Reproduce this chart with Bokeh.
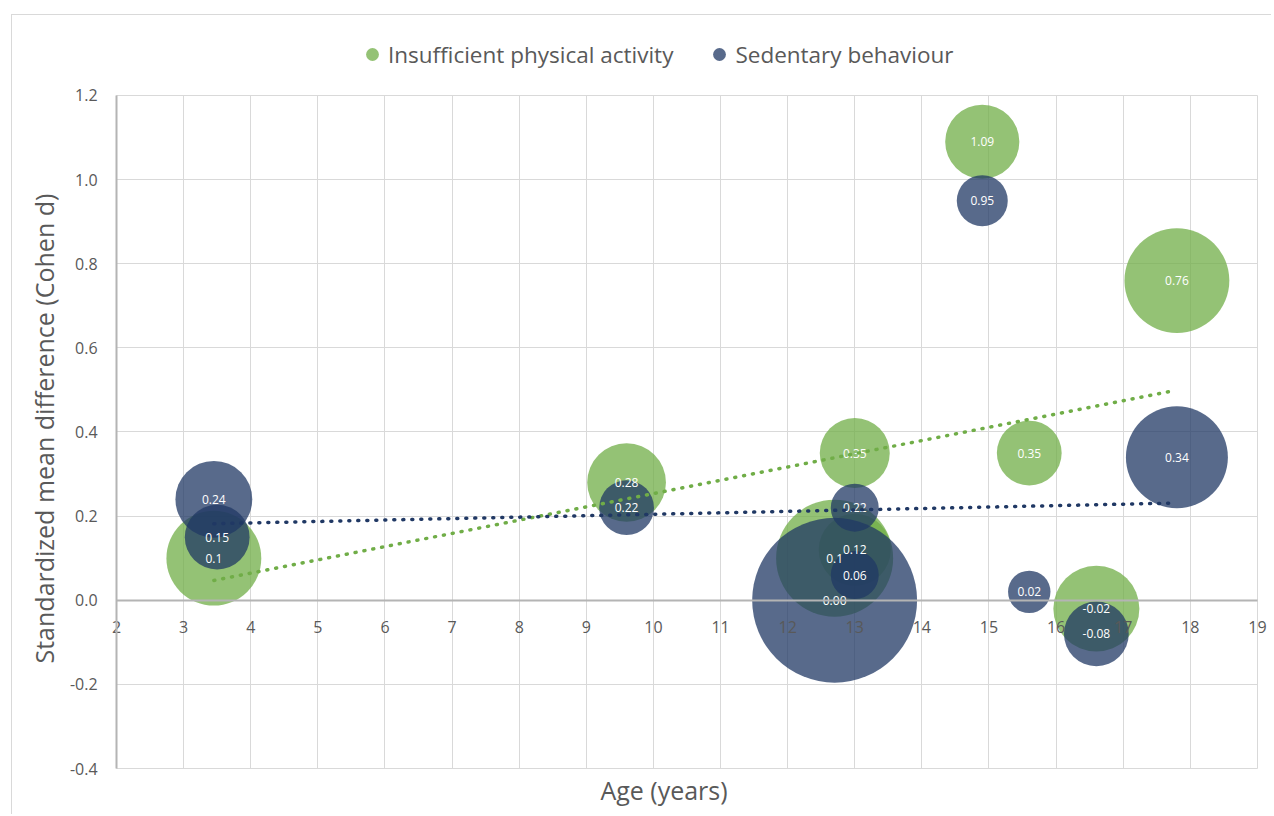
from bokeh.plotting import figure
from bokeh.models import (ColumnDataSource, LinearAxis, FixedTicker, NumeralTickFormatter,
                          Legend, LegendItem, Range1d, Title)
from bokeh.core.properties import value
from bokeh.embed import file_html
from bokeh.resources import INLINE
import math

# ---------------- data ----------------
ipa_age = [3.45, 9.6, 12.7, 13.0, 13.0, 14.9, 15.6, 17.8, 16.6]
ipa_d = [0.10, 0.28, 0.10, 0.35, 0.12, 1.09, 0.35, 0.76, -0.02]
ipa_weight = [90, 62, 137, 49, 52, 55, 42, 110, 74]
ipa_label = ["0.1", "0.28", "0.1", "0.35", "0.12", "1.09", "0.35", "0.76", "-0.02"]

sb_age = [3.45, 3.5, 9.6, 12.7, 13.0, 13.0, 14.9, 15.6, 17.8, 16.6]
sb_d = [0.24, 0.15, 0.22, 0.00, 0.22, 0.06, 0.95, 0.02, 0.34, -0.08]
sb_weight = [59, 42, 30, 272, 23, 23, 26, 18, 104, 42]
sb_label = ["0.24", "0.15", "0.22", "0.00", "0.22", "0.06", "0.95", "0.02", "0.34", "-0.08"]

ipa_trend_x = [3.45, 17.75]
ipa_trend_y = [0.047, 0.498]
sb_trend_x = [3.45, 17.75]
sb_trend_y = [0.182, 0.231]

x_ticks = list(range(2, 20))
y_ticks = [-0.4, -0.2, 0.0, 0.2, 0.4, 0.6, 0.8, 1.0, 1.2]

series_names = ["Insufficient physical activity", "Sedentary behaviour"]
x_title = "Age (years)"
y_title = "Standardized mean difference (Cohen d)"

# ---------------- style ----------------
FONT = "Open Sans"
GREEN = "#70AD47"
BLUE = "#203864"
TXT = "#595959"
AXIS = "#b4b4b4"
BUBBLE_SCALE = 10.0

def diam(ws):
    return [BUBBLE_SCALE * math.sqrt(w) for w in ws]

ipa_src = ColumnDataSource(dict(x=ipa_age, y=ipa_d, s=diam(ipa_weight), t=ipa_label))
sb_src = ColumnDataSource(dict(x=sb_age, y=sb_d, s=diam(sb_weight), t=sb_label))

X0, X1 = x_ticks[0], x_ticks[-1]
Y0, Y1 = y_ticks[0], y_ticks[-1]

# frame is a little larger than the plot area so that the end tick labels
# and the legend (outside the 2..19 / -0.4..1.2 area) are not clipped
p = figure(width=1260, height=800, output_backend="svg", toolbar_location=None,
           x_range=Range1d(1.165, 19.15), y_range=Range1d(-0.419, 1.3545),
           min_border_left=48, min_border_right=5, min_border_top=15, min_border_bottom=39,
           margin=(14, 0, 0, 11))
p.styles = {"border-left": "1px solid #d9d9d9", "border-top": "1px solid #d9d9d9"}
p.outline_line_color = None
p.background_fill_color = "white"
p.border_fill_color = "white"

# grids, limited to the plot area
p.xgrid.ticker = FixedTicker(ticks=x_ticks)
p.ygrid.ticker = FixedTicker(ticks=y_ticks)
for g in (p.xgrid[0], p.ygrid[0]):
    g.grid_line_color = "#d9d9d9"
    g.grid_line_width = 1
p.ygrid[0].cross_bounds = (X0, X1)
p.xgrid[0].cross_bounds = (Y0, Y1)

# x title: title-only axis in the below panel
xt = p.xaxis[0]
xt.ticker = FixedTicker(ticks=[])
xt.axis_label = x_title
xt.axis_line_color = None
xt.major_tick_line_color = None
xt.minor_tick_line_color = None
xt.major_label_text_font_size = "0px"
xt.major_label_standoff = 0
xt.axis_label_text_font = FONT
xt.axis_label_text_font_size = "25px"
xt.axis_label_text_font_style = "normal"
xt.axis_label_text_color = TXT
xt.axis_label_standoff = -4

# y title as a side title
p.yaxis[0].visible = False
ytitle = Title(text=y_title, align="left", offset=113, standoff=0,
               text_font=FONT, text_font_size="25px", text_font_style="normal",
               text_color=TXT)
p.add_layout(ytitle, "left")

# axes crossing inside the frame
xa = LinearAxis(ticker=FixedTicker(ticks=x_ticks), fixed_location=0, bounds=(X0, X1))
ya = LinearAxis(ticker=FixedTicker(ticks=y_ticks), fixed_location=X0, bounds=(Y0, Y1),
                formatter=NumeralTickFormatter(format="0.0"))
for ax in (xa, ya):
    ax.axis_line_color = AXIS
    ax.axis_line_width = 2
    ax.major_tick_line_color = None
    ax.minor_tick_line_color = None
    ax.major_label_text_font = FONT
    ax.major_label_text_font_size = "16px"
    ax.major_label_text_color = TXT
xa.major_label_standoff = 15
ya.major_label_standoff = 13
p.add_layout(xa, "below")
p.add_layout(ya, "left")

# bubbles
g_r = p.scatter("x", "y", size="s", source=ipa_src, fill_color=GREEN, fill_alpha=0.75,
                line_color=None)
b_r = p.scatter("x", "y", size="s", source=sb_src, fill_color=BLUE, fill_alpha=0.75,
                line_color=None)

# data labels
for src in (ipa_src, sb_src):
    p.text("x", "y", text="t", source=src, text_color="white", text_font=value(FONT),
           text_font_size="12px", text_align="center", text_baseline="middle")

# trend lines
p.line(ipa_trend_x, ipa_trend_y, line_color=GREEN, line_width=3.5, line_dash="1 8",
       line_cap="round")
p.line(sb_trend_x, sb_trend_y, line_color=BLUE, line_width=3.5, line_dash="1 8",
       line_cap="round")

legend = Legend(items=[LegendItem(label=series_names[0], renderers=[g_r]),
                       LegendItem(label=series_names[1], renderers=[b_r])],
                orientation="horizontal", location=(296, 706), padding=0, margin=0,
                spacing=30, glyph_width=32, glyph_height=32, label_standoff=0,
                label_text_font=FONT, label_text_font_size="22.5px", label_text_color=TXT,
                border_line_color=None, background_fill_alpha=0)
p.add_layout(legend)

open("out.html", "w").write(file_html(p, INLINE))
